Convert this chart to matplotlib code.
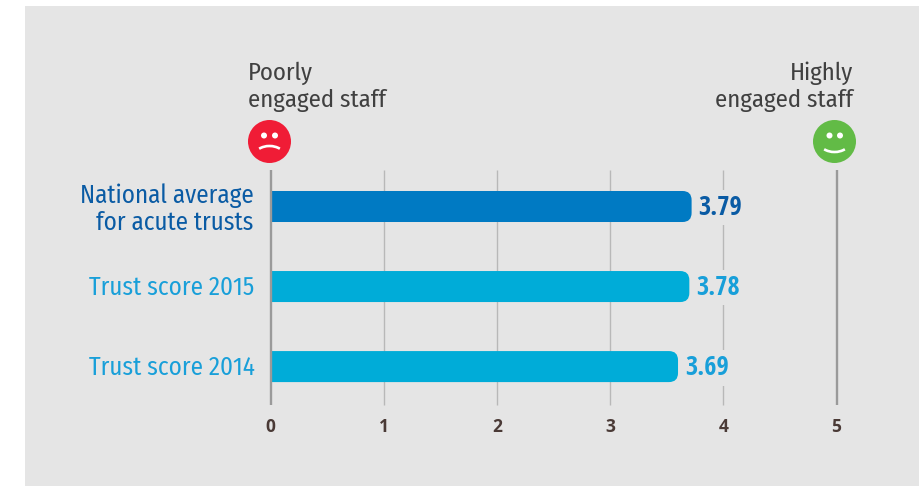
import matplotlib
matplotlib.use("Agg")
import matplotlib.pyplot as plt
from matplotlib.patches import FancyBboxPatch, Circle, Arc, Rectangle

narrow = ['Fira Sans Condensed', 'Asap Condensed', 'Liberation Sans', 'DejaVu Sans']
plt.rcParams['font.family'] = narrow

# chart data
categories = ["National average\nfor acute trusts", "Trust score 2015", "Trust score 2014"]
bar_lengths = [3.72, 3.70, 3.60]
value_labels = ["3.79", "3.78", "3.69"]
ticks = [0, 1, 2, 3, 4, 5]
bar_colors = ["#007ac3", "#00acd8", "#00acd8"]
text_colors = ["#0a5ba4", "#189fd9", "#189fd9"]

W, H = 919, 486
fig = plt.figure(figsize=(W / 100, H / 100), dpi=100, facecolor="white")

# grey panel behind everything
bg = fig.add_axes([0, 0, 1, 1])
bg.set_xlim(0, W)
bg.set_ylim(H, 0)
bg.axis("off")
bg.add_patch(Rectangle((24.5, 6), W - 24.5, H - 6, color="#e5e5e5", lw=0))

# header text
bg.text(248, 73, "Poorly", fontsize=17.8, color="#404040", ha="left", va="center")
bg.text(248, 100, "engaged staff", fontsize=17.8, color="#404040", ha="left", va="center")
bg.text(853, 73, "Highly", fontsize=17.8, color="#404040", ha="right", va="center")
bg.text(853, 100, "engaged staff", fontsize=17.8, color="#404040", ha="right", va="center")

# sad face
bg.add_patch(Circle((269.5, 141.5), 21.5, color="#f01c36", lw=0))
for ex in (264, 275):
    bg.add_patch(Circle((ex, 135.5), 3, color="white", lw=0))
bg.add_patch(Arc((269.5, 156), 30, 20, theta1=215, theta2=325, color="white", lw=1.9))

# happy face
bg.add_patch(Circle((834.5, 141.5), 21.5, color="#62bb46", lw=0))
for ex in (829.5, 840):
    bg.add_patch(Circle((ex, 135.5), 3, color="white", lw=0))
bg.add_patch(Arc((834.5, 142), 30, 20, theta1=35, theta2=145, color="white", lw=1.9))

# plot area, x=0 at 270.5px, x=5 at 836.5px, rows are 80px apart
left, right, top, bottom = 270.5, 836.5, 170, 405
ax = fig.add_axes([left / W, 1 - bottom / H, (right - left) / W, (bottom - top) / H])
ax.patch.set_alpha(0)
ax.set_xlim(0, 5)
ax.set_ylim(2.48, -0.456)
for s in ax.spines.values():
    s.set_visible(False)
ax.tick_params(length=0)
ax.set_yticks([])
ax.set_xticks(ticks)
ax.set_xticklabels([str(t) for t in ticks], fontsize=12.5, fontweight="bold", color="#4a3a36",
                   family=['Open Sans', 'DejaVu Sans'])
ax.tick_params(axis="x", pad=9)

# vertical lines
for t in ticks:
    heavy = t in (0, 5)
    ax.plot([t, t], [-0.456, 2.48], color="#9a9a9a" if heavy else "#b8b8b8",
            lw=1.7 if heavy else 1.0, zorder=1 if not heavy else 4, clip_on=False, solid_capstyle="butt")

# bars, rounded on the right and clipped by the axes on the left
bar_h = 0.3875
px_x = (right - left) / 5
for i, v in enumerate(bar_lengths):
    box = FancyBboxPatch((-0.3, i - bar_h / 2), v + 0.3, bar_h,
                         boxstyle="round,pad=0,rounding_size=0.08",
                         mutation_aspect=px_x / 80,
                         fc=bar_colors[i], ec="none", zorder=2)
    ax.add_patch(box)
    # grey halo breaks the gridline behind the label
    ax.text(v + 0.06, i + 0.015, value_labels[i], fontsize=19, fontweight="bold", color=text_colors[i],
            va="center", ha="left", zorder=3, bbox=dict(fc="#e5e5e5", ec="none", pad=3),
            family=['Open Sans Condensed', 'Fira Sans Condensed', 'DejaVu Sans'])

# category labels
cat_lines = categories[0].split("\n")
ax.text(-0.15, -0.135, cat_lines[0], fontsize=18, color=text_colors[0], ha="right", va="center", clip_on=False)
ax.text(-0.15, 0.205, cat_lines[1], fontsize=18, color=text_colors[0], ha="right", va="center", clip_on=False)
for i in (1, 2):
    ax.text(-0.14, i + 0.02, categories[i], fontsize=18, color=text_colors[i], ha="right", va="center", clip_on=False)

fig.savefig("out.png", dpi=100)
